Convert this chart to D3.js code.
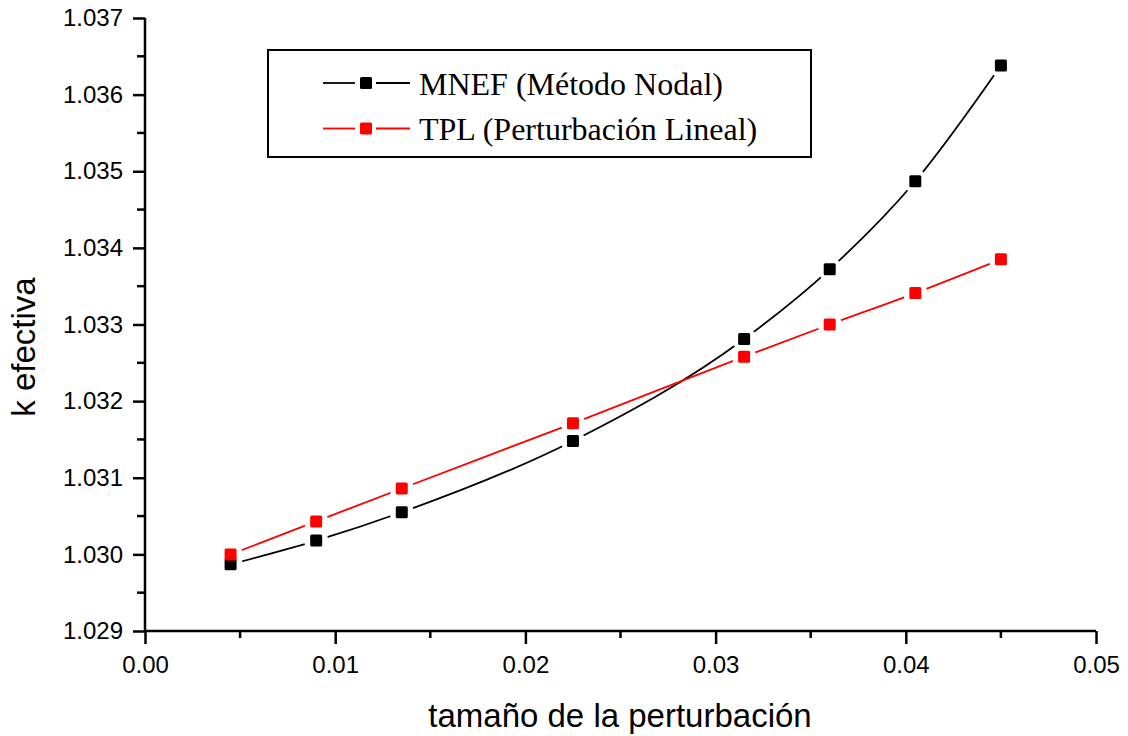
<!DOCTYPE html>
<html lang="es">
<head>
    <meta charset="UTF-8">
    <title>k efectiva vs tamaño de la perturbación</title>
    <script src="https://d3js.org/d3.v7.min.js"></script>
    <style>
        body {
            margin: 0;
            background: #fff;
        }
        svg text {
            font-family: "Liberation Sans", Arial, sans-serif;
        }
        .legend-text {
            font-family: "Liberation Serif", "Times New Roman", serif !important;
        }
    </style>
</head>
<body>
    <svg id="chart" width="1128" height="736"></svg>

    <script>
        // values
        const perturbation = [0.0045, 0.009, 0.0135, 0.0225, 0.0315, 0.036, 0.0405, 0.045];
        const mnefValues = [1.02987, 1.03018, 1.03055, 1.03148, 1.03281, 1.03372, 1.03487, 1.03638];
        const tplValues = [1.03000, 1.03043, 1.03086, 1.03171, 1.03258, 1.03300, 1.03341, 1.03385];
        const xTicks = [0.00, 0.01, 0.02, 0.03, 0.04, 0.05];
        const yTicks = [1.029, 1.030, 1.031, 1.032, 1.033, 1.034, 1.035, 1.036, 1.037];
        const seriesNames = ["MNEF (Método Nodal)", "TPL (Perturbación Lineal)"];
        const seriesColors = ["#000000", "#ff0000"];

        const margin = { top: 18, right: 32, bottom: 105, left: 145 };

        const svg = d3.select("#chart")
            .append("g")
            .attr("transform", `translate(${margin.left},${margin.top})`);

        const x = d3.scaleLinear().domain([0, 0.05]).range([0, 951]);
        const y = d3.scaleLinear().domain([1.029, 1.037]).range([613, 0]);
        const plotH = 613;

        // x axis
        const xAxis = svg.append("g")
            .attr("transform", `translate(0,${plotH})`)
            .call(d3.axisBottom(x).tickValues(xTicks).tickFormat(d3.format(".2f")).tickSize(13).tickPadding(12));
        xAxis.append("g")
            .selectAll("line")
            .data(d3.range(0.005, 0.05, 0.01))
            .join("line")
            .attr("x1", d => x(d)).attr("x2", d => x(d))
            .attr("y1", 0).attr("y2", 7)
            .attr("stroke", "#000");

        // y axis
        const yAxis = svg.append("g")
            .call(d3.axisLeft(y).tickValues(yTicks).tickFormat(d3.format(".3f")).tickSize(12).tickPadding(10));
        yAxis.append("g")
            .selectAll("line")
            .data(d3.range(1.0295, 1.037, 0.001))
            .join("line")
            .attr("x1", 0).attr("x2", -8)
            .attr("y1", d => y(d)).attr("y2", d => y(d))
            .attr("stroke", "#000");

        svg.selectAll(".domain")
            .attr("stroke", "#000")
            .attr("stroke-width", 2.5);
        svg.selectAll(".tick line")
            .attr("stroke-width", 2.5);
        xAxis.selectAll("g > line").attr("stroke-width", 2.5);
        yAxis.selectAll("g > line").attr("stroke-width", 2.5);
        svg.selectAll(".tick text")
            .style("font-size", "24px")
            .attr("fill", "#000");
        xAxis.select(".domain").attr("d", `M0,0H${x(0.05)}`);
        yAxis.select(".domain").attr("d", `M0,${plotH}V0`);

        // axis titles
        svg.append("text")
            .attr("x", 620 - margin.left)
            .attr("y", 727 - margin.top)
            .attr("text-anchor", "middle")
            .style("font-size", "33px")
            .text("tamaño de la perturbación");

        svg.append("text")
            .attr("transform", `translate(${35 - margin.left},${347 - margin.top}) rotate(-90)`)
            .attr("text-anchor", "middle")
            .style("font-size", "33px")
            .text("k efectiva");

        // series
        const allSeries = [mnefValues, tplValues].map((vals, i) => ({
            name: seriesNames[i],
            color: seriesColors[i],
            points: perturbation.map((p, j) => ({ p, v: vals[j] }))
        }));

        const line = d3.line()
            .x(d => x(d.p))
            .y(d => y(d.v))
            .curve(d3.curveMonotoneX);

        svg.selectAll(".series-line")
            .data(allSeries)
            .join("path")
            .attr("class", "series-line")
            .attr("d", d => line(d.points))
            .attr("fill", "none")
            .attr("stroke", d => d.color)
            .attr("stroke-width", 1.8);

        // gaps around the symbols
        allSeries.forEach(s => {
            svg.append("g")
                .selectAll("circle")
                .data(s.points)
                .join("circle")
                .attr("cx", d => x(d.p))
                .attr("cy", d => y(d.v))
                .attr("r", 12)
                .attr("fill", "#fff");
        });

        allSeries.forEach(s => {
            svg.append("g")
                .selectAll("rect")
                .data(s.points)
                .join("rect")
                .attr("x", d => x(d.p) - 6)
                .attr("y", d => y(d.v) - 6)
                .attr("width", 12)
                .attr("height", 12)
                .attr("rx", 1.5)
                .attr("fill", s.color);
        });

        // legend
        const legend = svg.append("g")
            .attr("transform", `translate(${268 - margin.left},${50 - margin.top})`);

        legend.append("rect")
            .attr("width", 543)
            .attr("height", 107)
            .attr("fill", "#fff")
            .attr("stroke", "#000")
            .attr("stroke-width", 2);

        allSeries.forEach((s, i) => {
            const row = legend.append("g")
                .attr("transform", `translate(0,${33 + i * 45.5})`);
            row.append("line")
                .attr("x1", 55).attr("x2", 87)
                .attr("stroke", s.color).attr("stroke-width", 1.8);
            row.append("line")
                .attr("x1", 108).attr("x2", 142)
                .attr("stroke", s.color).attr("stroke-width", 1.8);
            row.append("rect")
                .attr("x", 92).attr("y", -6)
                .attr("width", 12).attr("height", 12)
                .attr("rx", 1.5)
                .attr("fill", s.color);
            row.append("text")
                .attr("class", "legend-text")
                .attr("x", 151)
                .attr("y", 11.5)
                .style("font-size", "32px")
                .text(s.name);
        });
    </script>
</body>
</html>
